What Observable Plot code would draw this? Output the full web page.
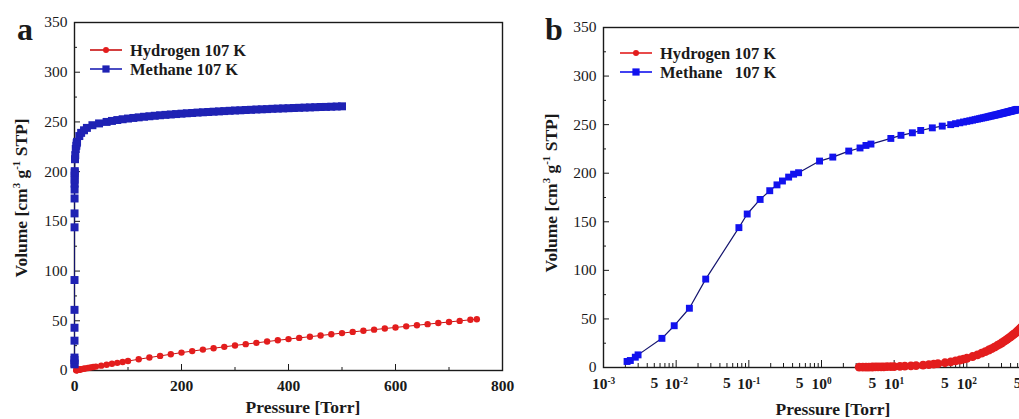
<!DOCTYPE html>
<html>
<head>
<meta charset="utf-8">
<script src="https://cdn.jsdelivr.net/npm/d3@7"></script>
<script src="https://cdn.jsdelivr.net/npm/@observablehq/plot@0.6"></script>
<style>
  html, body { margin: 0; padding: 0; background: #fff; overflow: hidden; }
  #fig { position: relative; width: 1019px; height: 419px; overflow: hidden; background: #fff; }
  #fig svg { position: absolute; top: 0; }
</style>
</head>
<body>
<div id="fig"></div>
<script>
// Methane isotherm at 107 K: pressure (Torr) and adsorbed volume (cm3/g STP)
const methanePressure = [
  0.00211, 0.00234, 0.00274, 0.00299, 0.00637, 0.0094, 0.0152, 0.0255, 0.073, 0.095,
  0.143, 0.194, 0.244, 0.29, 0.353, 0.413, 0.484, 0.94, 1.43, 2.37,
  3.39, 4.09, 4.79, 9.0, 12.4, 17.8, 23.2, 33.5, 45.9,
  60, 70, 80, 90, 100, 110, 120, 130, 140, 150, 160, 170, 180, 190, 200,
  210, 220, 230, 240, 250, 260, 270, 280, 290, 300, 310, 320, 330, 340, 350,
  360, 370, 380, 390, 400, 410, 420, 430, 440, 450, 460, 470, 480, 490, 500
];
const methaneVolume = [
  6.2, 7.2, 10.6, 13, 30, 43, 61, 91, 144, 158,
  173, 182, 188, 192, 196, 199, 200.5, 212.5, 216.6, 222.8,
  226, 228.6, 230, 235.8, 239, 241.6, 244, 246.7, 248.5,
  250.0, 251.0, 251.9, 252.7, 253.4, 254.0, 254.6, 255.2, 255.7, 256.2, 256.7, 257.1, 257.5, 257.9, 258.3,
  258.7, 259.0, 259.4, 259.7, 260.0, 260.3, 260.6, 260.9, 261.2, 261.5, 261.7, 262.0, 262.2, 262.5, 262.7,
  262.9, 263.2, 263.4, 263.6, 263.8, 264.0, 264.2, 264.4, 264.6, 264.8, 265.0, 265.1, 265.3, 265.5, 265.7
];

// Hydrogen isotherm at 107 K
const hydrogenPressure = [
  3.3, 3.7, 4.1, 4.5, 5, 5.5, 6, 6.6, 7.2, 8,
  9, 10, 12, 14, 17, 20, 25, 30, 35, 40,
  50, 60, 70, 80, 90, 100,
  120, 140, 160, 180, 200, 220, 240, 260, 280, 300, 320, 340, 360, 380, 400,
  420, 440, 460, 480, 500, 520, 540, 560, 580, 600, 620, 640, 660, 680, 700, 720, 740, 752
];
const hydrogenVolume = [
  0.3, 0.35, 0.4, 0.45, 0.5, 0.55, 0.6, 0.65, 0.7, 0.8,
  0.9, 1.0, 1.2, 1.4, 1.7, 2.0, 2.5, 3.0, 3.5, 3.9,
  4.9, 5.8, 6.8, 7.7, 8.6, 9.5,
  11.3, 13.0, 14.7, 16.3, 18.0, 19.5, 21.0, 22.4, 23.8, 25.2, 26.5, 27.8, 29.1, 30.4, 31.6,
  32.8, 34.0, 35.2, 36.4, 37.6, 38.8, 40.0, 41.1, 42.2, 43.3, 44.4, 45.5, 46.6, 47.7, 48.8, 49.9, 51.0, 51.6
];

// Axis ticks
const volumeTicks = [0, 50, 100, 150, 200, 250, 300, 350];
const volumeMinorTicks = [25, 75, 125, 175, 225, 275, 325];
const pressureTicks = [0, 200, 400, 600, 800];
const pressureMinorTicks = [100, 300, 500, 700];
const logDecadeTicks = [1e-3, 1e-2, 1e-1, 1, 1e1, 1e2];
const logFiveTicks = [5e-3, 5e-2, 5e-1, 5, 5e1, 5e2];

const seriesNames = ["Hydrogen 107 K", "Methane 107 K"];
const seriesNamesLog = ["Hydrogen 107 K", "Methane\u00a0\u00a0\u00a0107 K"];

const serif = '"Liberation Serif", "Times New Roman", "DejaVu Serif", serif';
const ink = "#1a1a1a";
const red = "#e31d1d";
const redLine = "#c81010";
const blueA = "#1f22b4";
const blueB = "#1212ee";
const navy = "#14146e";

const hydrogen = hydrogenPressure.map((p, i) => ({pressure: p, volume: hydrogenVolume[i]}));
const methane = methanePressure.map((p, i) => ({pressure: p, volume: methaneVolume[i]}));

// minor decade ticks 2..9 × 10^k (the 5s carry a label)
const logMinorTicks = logDecadeTicks.flatMap(d => [2, 3, 4, 5, 6, 7, 8, 9].map(m => m * d));
const decadeLabel = d => "10^" + Math.round(Math.log10(d));

const fig = document.getElementById("fig");
const NS = "http://www.w3.org/2000/svg";

// inward tick marks drawn along the bottom and left edges of the frame
const bottomTicks = (ticks, len, frameHeight) =>
  Plot.tickX(ticks, {x: d => d, insetTop: frameHeight - len, stroke: ink, strokeWidth: 1});
const leftTicks = (ticks, len, frameWidth) =>
  Plot.tickY(ticks, {y: d => d, insetRight: frameWidth - len, stroke: ink, strokeWidth: 1});

function addText(svg, {x, y, parts, size, weight = "bold", rotate = 0, anchor = "middle"}) {
  const t = d3.select(svg).append("text")
    .attr("transform", `translate(${x},${y}) rotate(${rotate})`)
    .attr("text-anchor", anchor)
    .attr("font-family", serif)
    .attr("font-size", size)
    .attr("font-weight", weight)
    .attr("fill", ink)
    .style("white-space", "pre");
  let shifted = false;
  for (const p of parts) {
    if (typeof p === "string") {
      t.append("tspan").attr("dy", shifted ? size * 0.4 : 0).text(p);
      shifted = false;
    } else {
      t.append("tspan").attr("dy", -size * 0.4).attr("font-size", size * 0.62).text(p.sup);
      shifted = true;
    }
  }
  return t;
}

function addLegend(svg, x0, ys, names, colors, lineColors, symbols) {
  const g = d3.select(svg).append("g").attr("aria-label", "legend");
  names.forEach((name, i) => {
    const y = ys[i];
    g.append("line").attr("x1", x0).attr("x2", x0 + 32).attr("y1", y).attr("y2", y)
      .attr("stroke", lineColors[i]).attr("stroke-width", 1.6);
    if (symbols[i] === "square") {
      g.append("rect").attr("x", x0 + 16 - 3.6).attr("y", y - 3.6).attr("width", 7.2).attr("height", 7.2).attr("fill", colors[i]);
    } else {
      g.append("circle").attr("cx", x0 + 16).attr("cy", y).attr("r", 3).attr("fill", colors[i]);
    }
    g.append("text").attr("x", x0 + 40).attr("y", y).attr("dy", "0.35em")
      .attr("text-anchor", "start")
      .attr("font-family", serif).attr("font-size", 16.5).attr("font-weight", "bold")
      .attr("fill", ink).style("white-space", "pre").text(name);
  });
}

const yLabelParts = ["Volume [cm", {sup: "3"}, " g", {sup: "-1"}, " STP]"];

// Panel a: linear pressure axis
const frameA = {w: 515 - 74 - 13, h: 419 - 22 - 49};
const plotA = Plot.plot({
  width: 515,
  height: 419,
  marginLeft: 74,
  marginRight: 13,
  marginTop: 22,
  marginBottom: 49,
  style: {fontFamily: serif, fontSize: "15.5px", color: ink, background: "transparent"},
  x: {type: "linear", domain: [0, 800]},
  y: {domain: [0, 350]},
  marks: [
    Plot.frame({stroke: ink, strokeWidth: 1.4}),
    Plot.axisY({ticks: volumeTicks, tickSize: 0, tickPadding: 7, label: null}),
    leftTicks(volumeTicks, 6, frameA.w),
    leftTicks(volumeMinorTicks, 3, frameA.w),
    Plot.axisX({ticks: pressureTicks, tickSize: 0, tickPadding: 9, label: null, fontWeight: "bold"}),
    bottomTicks(pressureTicks, 6, frameA.h),
    bottomTicks(pressureMinorTicks, 3, frameA.h),
    Plot.line(hydrogen, {x: "pressure", y: "volume", stroke: redLine, strokeWidth: 1}),
    Plot.dot(hydrogen, {x: "pressure", y: "volume", r: 3.2, fill: red}),
    Plot.line(methane, {x: "pressure", y: "volume", stroke: navy, strokeWidth: 1}),
    Plot.dot(methane, {x: "pressure", y: "volume", symbol: "square", r: 4.5, fill: blueA})
  ]
});
plotA.style.left = "0px";
fig.appendChild(plotA);

// Panel b: logarithmic pressure axis, six decades, right edge runs past the page
const frameB = {w: 534 - 88 - 10, h: 419 - 27 - 52};
const plotB = Plot.plot({
  width: 534,
  height: 419,
  marginLeft: 88,
  marginRight: 10,
  marginTop: 27,
  marginBottom: 52,
  style: {fontFamily: serif, fontSize: "15.5px", color: ink, background: "transparent"},
  x: {type: "log", domain: [1e-3, 1e3]},
  y: {domain: [0, 350]},
  marks: [
    Plot.frame({stroke: ink, strokeWidth: 1.4}),
    Plot.axisY({ticks: volumeTicks, tickSize: 0, tickPadding: 7, label: null}),
    leftTicks(volumeTicks, 6, frameB.w),
    leftTicks(volumeMinorTicks, 3, frameB.w),
    Plot.axisX({ticks: logDecadeTicks, tickSize: 0, tickPadding: 10, tickFormat: decadeLabel, label: null, fontWeight: "bold"}),
    Plot.text(logFiveTicks, {x: d => d, text: () => "5", frameAnchor: "bottom", lineAnchor: "top", dy: 9, fontWeight: "bold", fill: ink}),
    bottomTicks(logDecadeTicks, 7, frameB.h),
    bottomTicks(logMinorTicks, 4, frameB.h),
    Plot.line(hydrogen, {x: "pressure", y: "volume", stroke: redLine, strokeWidth: 1}),
    Plot.dot(hydrogen, {x: "pressure", y: "volume", r: 4.4, fill: red}),
    Plot.line(methane, {x: "pressure", y: "volume", stroke: navy, strokeWidth: 1.2}),
    Plot.dot(methane, {x: "pressure", y: "volume", symbol: "square", r: 3.9, fill: blueB})
  ]
});
plotB.style.left = "515px";
fig.appendChild(plotB);

// superscript exponents on the decade labels
plotB.querySelectorAll('g[aria-label="x-axis tick label"] text').forEach(t => {
  const m = /^10\^(-?\d+)$/.exec(t.textContent);
  if (!m) return;
  t.textContent = "10";
  const s = document.createElementNS(NS, "tspan");
  s.setAttribute("dy", "-0.45em");
  s.setAttribute("font-size", "0.6em");
  s.textContent = m[1];
  t.appendChild(s);
});

// titles, axis labels and legends
addText(plotA, {x: 25, y: 40, parts: ["a"], size: 32});
addText(plotA, {x: 303, y: 413, parts: ["Pressure [Torr]"], size: 17.5});
addText(plotA, {x: 27, y: 198, parts: yLabelParts, size: 17.5, rotate: -90});
addLegend(plotA, 90, [50, 69], seriesNames, [red, blueA], [redLine, blueA], ["circle", "square"]);

addText(plotB, {x: 39, y: 40, parts: ["b"], size: 32});
addText(plotB, {x: 318, y: 415, parts: ["Pressure [Torr]"], size: 17.5});
addText(plotB, {x: 42, y: 193, parts: yLabelParts, size: 17.5, rotate: -90});
addLegend(plotB, 105, [53, 72], seriesNamesLog, [red, blueB], [red, blueB], ["circle", "square"]);
</script>
</body>
</html>
